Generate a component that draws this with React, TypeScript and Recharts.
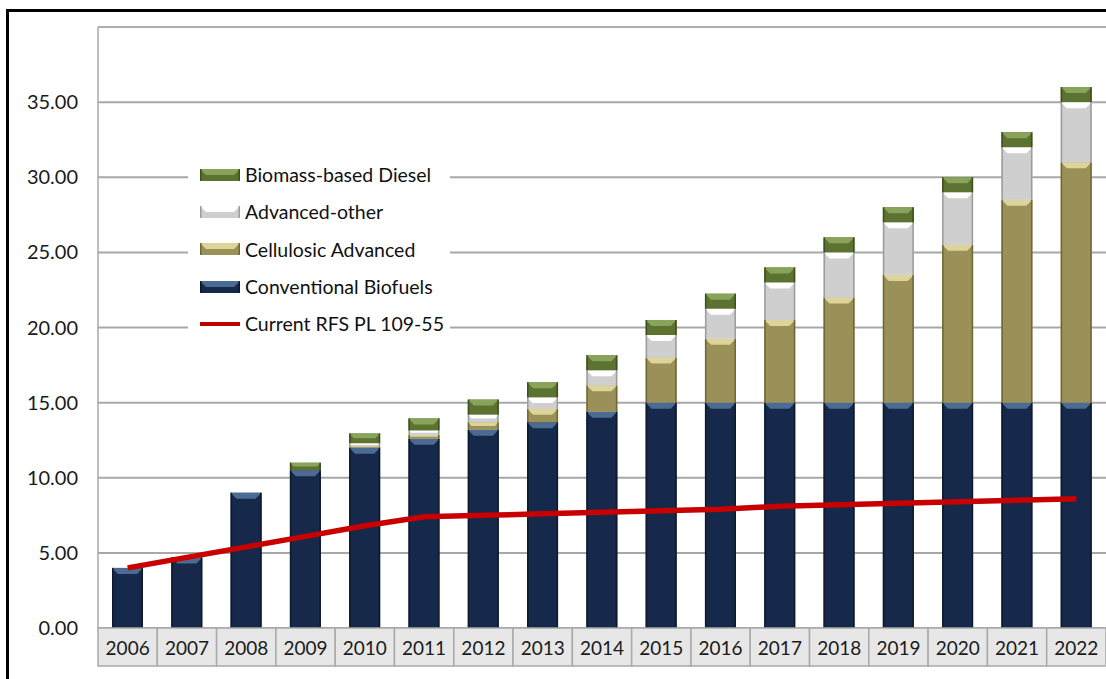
import React from 'react';
import { ComposedChart, Bar, Line, XAxis, YAxis, CartesianGrid, Legend, ReferenceLine } from 'recharts';

const YEARS = ['2006', '2007', '2008', '2009', '2010', '2011', '2012', '2013', '2014', '2015', '2016', '2017', '2018', '2019', '2020', '2021', '2022'];
const CONVENTIONAL = [4.0, 4.7, 9.0, 10.5, 12.0, 12.6, 13.2, 13.7, 14.4, 15.0, 15.0, 15.0, 15.0, 15.0, 15.0, 15.0, 15.0];
const CELLULOSIC = [0, 0, 0, 0, 0.1, 0.25, 0.5, 0.9, 1.75, 3.0, 4.25, 5.5, 7.0, 8.5, 10.5, 13.5, 16.0];
const ADV_OTHER = [0, 0, 0, 0, 0.2, 0.3, 0.5, 0.75, 1.0, 1.5, 2.0, 2.5, 3.0, 3.5, 3.5, 3.5, 4.0];
const BIOMASS = [0, 0, 0, 0.5, 0.65, 0.8, 1.0, 1.0, 1.0, 1.0, 1.0, 1.0, 1.0, 1.0, 1.0, 1.0, 1.0];
const RFS_CURRENT = [4.0, 4.7, 5.4, 6.1, 6.8, 7.4, 7.5, 7.6, 7.7, 7.8, 7.9, 8.1, 8.2, 8.3, 8.4, 8.5, 8.6];
const Y_TICKS = [0, 5, 10, 15, 20, 25, 30, 35];

const data = YEARS.map((year, i) => ({
    year,
    conventional: CONVENTIONAL[i],
    cellulosic: CELLULOSIC[i],
    other: ADV_OTHER[i],
    biomass: BIOMASS[i],
    rfs: RFS_CURRENT[i],
}));

const FONT = 'Lato, "Open Sans", sans-serif';

// base / top highlight / side edge
const SHADES: Record<string, [string, string, string]> = {
    conventional: ['#16294a', '#4c6b92', '#0c1a30'],
    cellulosic: ['#9b9158', '#ddd49a', '#6f6939'],
    other: ['#cfcfcf', '#ffffff', '#9c9c9c'],
    biomass: ['#5b7230', '#8aa35a', '#3d501f'],
};

const BevelRect = ({ x, y, width, height, shade }: any) => {
    if (!height || height <= 0) return null;
    const [base, light, edge] = SHADES[shade];
    const b = Math.min(6, height / 2);
    return (
        <g>
            <rect x={x} y={y} width={width} height={height} fill={base} />
            <polygon
                points={`${x},${y} ${x + width},${y} ${x + width - b},${y + b} ${x + b},${y + b}`}
                fill={light}
            />
            <rect x={x} y={y} width={1.5} height={height} fill={edge} />
            <rect x={x + width - 1.5} y={y} width={1.5} height={height} fill={edge} />
        </g>
    );
};

const CELL_W = 1008 / YEARS.length;

const TableTick = ({ x, y, payload }: any) => (
    <g>
        <rect x={x - CELL_W / 2} y={y} width={CELL_W} height={38} fill="#e7e7e7" stroke="#a9a9a9" strokeWidth={1.5} />
        <text x={x} y={y + 27} textAnchor="middle" fontSize={19} fontFamily={FONT} fill="#1a1a1a">
            {payload.value}
        </text>
    </g>
);

const LEGEND_ROWS = [
    { label: 'Biomass-based Diesel', shade: 'biomass' },
    { label: 'Advanced-other', shade: 'other' },
    { label: 'Cellulosic Advanced', shade: 'cellulosic' },
    { label: 'Conventional Biofuels', shade: 'conventional' },
    { label: 'Current RFS PL 109-55', shade: 'line' },
];

const renderLegend = () => (
    <div style={{ background: '#fff', width: 262, height: 182, fontFamily: FONT, fontSize: 19.5, color: '#111' }}>
        {LEGEND_ROWS.map((row) => (
            <div key={row.label} style={{ display: 'flex', alignItems: 'center', height: 37.3 }}>
                <svg width={56} height={14} style={{ marginLeft: 10 }}>
                    {row.shade === 'line' ? (
                        <rect x={2} y={5} width={40} height={4} fill="#c00000" />
                    ) : (
                        <BevelRect x={2} y={1} width={40} height={12} shade={row.shade} />
                    )}
                </svg>
                <span style={{ marginLeft: -9 }}>{row.label}</span>
            </div>
        ))}
    </div>
);

export default function App() {
    return (
        <div style={{ position: 'absolute', left: 0, top: 0, width: 1106, height: 679, background: '#fff', overflow: 'hidden' }}>
            <div style={{ position: 'absolute', left: 6, top: 9, width: 1200, height: 800, borderTop: '3px solid #000', borderLeft: '3px solid #000' }} />
            <div style={{ position: 'absolute', left: 0, top: 0 }}>
                <ComposedChart width={1106} height={679} data={data} margin={{ top: 27, right: 0, bottom: 11, left: 0 }} barSize={31}>
                    <CartesianGrid horizontal vertical={false} stroke="#a8a8a8" strokeWidth={2} />
                    <ReferenceLine y={40} stroke="#b0b0b0" strokeWidth={1.5} />
                    <XAxis
                        dataKey="year"
                        height={40}
                        tickLine={false}
                        axisLine={false}
                        tickSize={0}
                        tickMargin={0}
                        interval={0}
                        tick={<TableTick />}
                    />
                    <YAxis
                        width={98}
                        domain={[0, 40]}
                        ticks={Y_TICKS}
                        tickFormatter={(v: number) => v.toFixed(2)}
                        tickLine={false}
                        axisLine={{ stroke: '#a8a8a8', strokeWidth: 1.5 }}
                        tickMargin={14}
                        tick={{ fontSize: 20, fontFamily: FONT, fill: '#1a1a1a' }}
                    />
                    <Bar dataKey="conventional" stackId="a" isAnimationActive={false} shape={(p: any) => <BevelRect {...p} shade="conventional" />} />
                    <Bar dataKey="cellulosic" stackId="a" isAnimationActive={false} shape={(p: any) => <BevelRect {...p} shade="cellulosic" />} />
                    <Bar dataKey="other" stackId="a" isAnimationActive={false} shape={(p: any) => <BevelRect {...p} shade="other" />} />
                    <Bar dataKey="biomass" stackId="a" isAnimationActive={false} shape={(p: any) => <BevelRect {...p} shade="biomass" />} />
                    <Line dataKey="rfs" type="linear" stroke="#c80000" strokeWidth={5.5} dot={false} isAnimationActive={false} />
                    <Legend
                        content={renderLegend}
                        layout="vertical"
                        align="center"
                        verticalAlign="middle"
                        wrapperStyle={{ left: 188, top: 156, width: 262 }}
                    />
                </ComposedChart>
            </div>
        </div>
    );
}
